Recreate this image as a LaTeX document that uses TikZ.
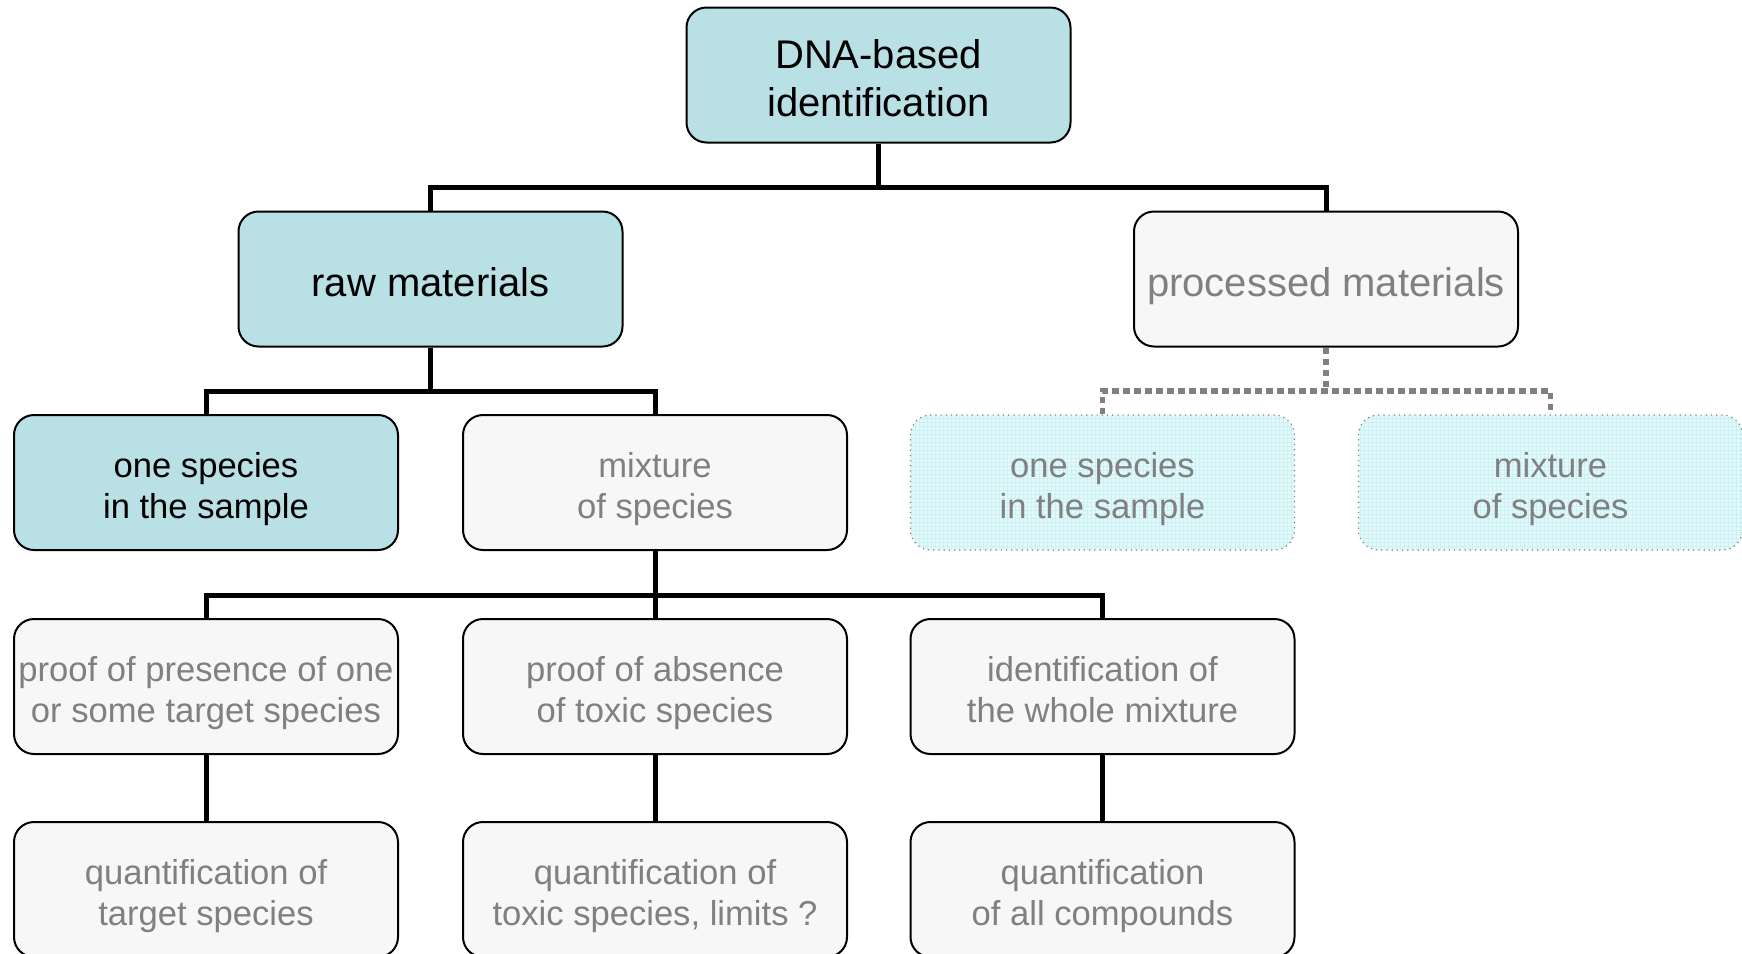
\documentclass[tikz,border=0pt]{standalone}
\usepackage{fontspec}
\setmainfont{Liberation Sans}
\definecolor{tealfill}{RGB}{185,224,228}
\definecolor{boxgrey}{RGB}{247,247,247}
\definecolor{textgrey}{RGB}{128,128,128}
\definecolor{ghostfill}{RGB}{226,250,252}
\definecolor{ghostgrid}{RGB}{205,240,245}
\definecolor{dashgrey}{RGB}{128,128,128}
\newcommand\strtS{\rule{0pt}{20pt}}
\newcommand\strbS{\rule[-4.5pt]{0pt}{4.5pt}}
\newcommand\strtB{\rule{0pt}{21.5pt}}
\newcommand\strbB{\rule[-4.5pt]{0pt}{4.5pt}}
\tikzset{
  box/.style={draw=black, line width=1pt, rounded corners=10pt,
    minimum width=192pt, minimum height=67.5pt, align=center, inner sep=0pt},
  tealbox/.style={box, fill=tealfill, text=black},
  greybox/.style={box, fill=boxgrey, text=textgrey},
  ghostbox/.style={box, draw=textgrey, line width=0.6pt, dotted, fill=ghostfill, text=textgrey,
    path picture={\draw[ghostgrid, line width=0.25pt, solid, step=2pt]
      (path picture bounding box.south west) grid (path picture bounding box.north east);}},
  big/.style={font=\fontsize{20}{24}\selectfont},
  small/.style={font=\fontsize{17.3}{20.5}\selectfont},
  conn/.style={draw=black, line width=2.5pt},
  ghostconn/.style={draw=dashgrey, line width=2.7pt, dash pattern=on 3.2pt off 2.3pt}
}
\begin{document}
\begin{tikzpicture}[x=0.5pt,y=-0.5pt]
\useasboundingbox (0,0) rectangle (1742,954);
\clip (0,0) rectangle (1742,954);

% level 1
\node[tealbox,big] (top) at (878.5,75) {\strtB DNA-based\\identification\strbB};
% level 2
\node[tealbox,big] (raw) at (430.5,279) {\strtB raw materials\strbB};
\node[greybox,big] (proc) at (1326,279) {\strtB processed materials\strbB};
% level 3
\node[tealbox,small] (one) at (206,482.5) {\strtS one species\\in the sample\strbS};
\node[greybox,small] (mix) at (655,482.5) {\strtS mixture\\of species\strbS};
\node[ghostbox,small] (pone) at (1102.5,482.5) {\strtS one species\\in the sample\strbS};
\node[ghostbox,small] (pmix) at (1550.5,482.5) {\strtS mixture\\of species\strbS};
% level 4
\node[greybox,small] (pres) at (206,686.5) {\strtS proof of presence of one\\or some target species\strbS};
\node[greybox,small] (abs) at (655,686.5) {\strtS proof of absence\\of toxic species\strbS};
\node[greybox,small] (whole) at (1102.5,686.5) {\strtS identification of\\the whole mixture\strbS};
% level 5
\node[greybox,small] (qt) at (206,889.5) {\strtS quantification of\\target species\strbS};
\node[greybox,small] (qx) at (655,889.5) {\strtS quantification of\\toxic species, limits ?\strbS};
\node[greybox,small] (qa) at (1102.5,889.5) {\strtS quantification\\of all compounds\strbS};

% bus coordinates
\coordinate (b1) at (878.5,187);
\coordinate (b2) at (430.5,391);
\coordinate (b3) at (1326,391);
\coordinate (b4) at (655,595.5);

% connectors
\draw[conn] (top.south) -- (b1);
\draw[conn] (raw.north) |- (b1) -| (proc.north);
\draw[conn] (raw.south) -- (b2);
\draw[conn] (one.north) |- (b2) -| (mix.north);
\draw[conn] (mix.south) -- (b4);
\draw[conn] (pres.north) |- (b4) -| (whole.north);
\draw[conn] (abs.north) -- (b4);
\draw[conn] (pres.south) -- (qt.north);
\draw[conn] (abs.south) -- (qx.north);
\draw[conn] (whole.south) -- (qa.north);

\draw[ghostconn] (proc.south) -- (b3);
\draw[ghostconn] (pone.north) |- (b3) -| (pmix.north);
\end{tikzpicture}
\end{document}
